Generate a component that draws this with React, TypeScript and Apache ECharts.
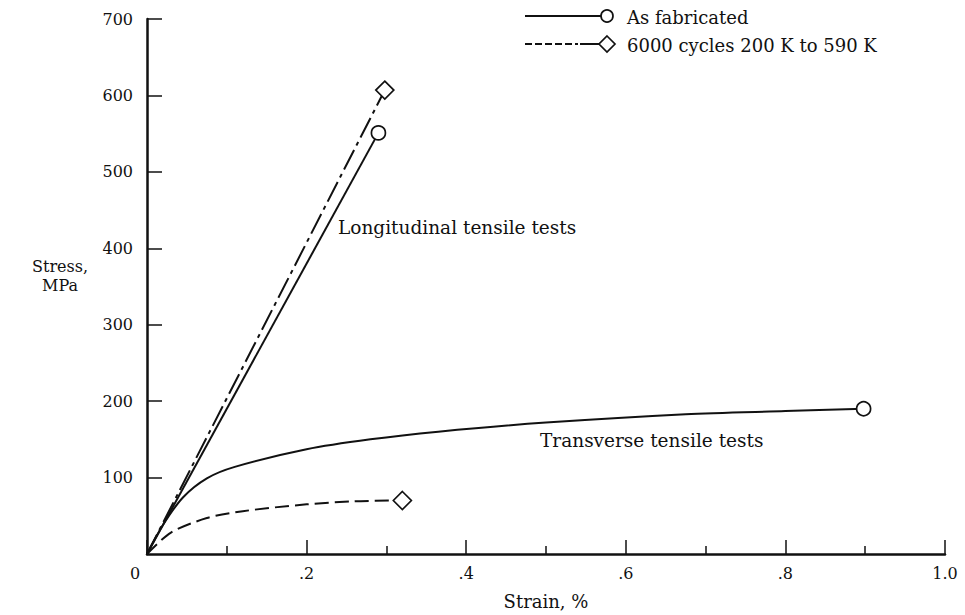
import React, { useEffect, useRef } from "react";
import * as echarts from "echarts";

const xTickLabels = ["0", ".2", ".4", ".6", ".8", "1.0"];
const yTickLabels = ["0", "100", "200", "300", "400", "500", "600", "700"];

const longFab: number[][] = [[0, 0], [0.29, 551]];
const longCyc: number[][] = [[0, 0], [0.298, 607]];
const transFab: number[][] = [
  [0, 0], [0.02, 38], [0.045, 74], [0.075, 99], [0.11, 114],
  [0.2, 137], [0.28, 150], [0.365, 160], [0.5, 172], [0.675, 183], [0.8, 187], [0.898, 190],
];
const transCyc: number[][] = [
  [0, 0], [0.03, 28], [0.075, 47], [0.12, 56], [0.2, 65], [0.26, 69], [0.32, 70],
];

const FONT = "DejaVu Serif";
const INK = "#111";

export default function App() {
  const ref = useRef<HTMLDivElement>(null);
  useEffect(() => {
    const chart = echarts.init(ref.current!, null, { renderer: "svg" });
    const lastSym = (sym: string, n: number) => (_v: any, p: any) => (p.dataIndex === n - 1 ? sym : "none");
    const symStyle = { color: "#fff", borderColor: INK, borderWidth: 1.7 };
    chart.setOption({
      animation: false,
      backgroundColor: "#fff",
      grid: { left: 147, top: 19, width: 798, height: 535, containLabel: false },
      xAxis: {
        type: "value", min: 0, max: 1, interval: 0.2,
        axisLine: { show: true, onZero: false, lineStyle: { color: INK, width: 2.5 } },
        axisTick: { show: true, inside: true, length: 14, lineStyle: { color: INK, width: 1.5 } },
        minorTick: { show: true, splitNumber: 2, length: 8, lineStyle: { color: INK, width: 1.5 } },
        splitLine: { show: false },
        axisLabel: {
          showMinLabel: false, margin: 11, color: INK, fontFamily: FONT, fontSize: 16,
          formatter: (v: number) => xTickLabels[Math.round(v / 0.2)],
        },
      },
      yAxis: {
        type: "value", min: 0, max: 700, interval: 100,
        axisLine: { show: true, onZero: false, lineStyle: { color: INK, width: 2.5 } },
        axisTick: { show: true, inside: true, length: 15, lineStyle: { color: INK, width: 1.5 } },
        splitLine: { show: false },
        axisLabel: {
          showMinLabel: false, margin: 14, color: INK, fontFamily: FONT, fontSize: 16,
          formatter: (v: number) => yTickLabels[Math.round(v / 100)],
        },
      },
      series: [
        {
          type: "line", data: longFab, showSymbol: true, symbol: lastSym("circle", longFab.length), symbolSize: 14,
          lineStyle: { color: INK, width: 2 }, itemStyle: symStyle, z: 3,
        },
        {
          type: "line", data: longCyc, showSymbol: true, symbol: lastSym("diamond", longCyc.length), symbolSize: [18, 18],
          lineStyle: { color: INK, width: 2, type: [22, 5, 4, 5] }, itemStyle: symStyle, z: 3,
        },
        {
          type: "line", data: transFab, smooth: 0.3, showSymbol: true, symbol: lastSym("circle", transFab.length), symbolSize: 14,
          lineStyle: { color: INK, width: 2 }, itemStyle: symStyle, z: 3,
        },
        {
          type: "line", data: transCyc, smooth: 0.3, showSymbol: true, symbol: lastSym("diamond", transCyc.length), symbolSize: [18, 18],
          lineStyle: { color: INK, width: 2, type: [14, 6] }, itemStyle: symStyle, z: 3,
        },
      ],
      graphic: [
        { type: "text", x: 135, y: 573, style: { text: xTickLabels[0], font: `16px "${FONT}"`, fill: INK, textAlign: "center", textVerticalAlign: "middle" } },
        { type: "text", x: 60, y: 266, style: { text: "Stress,", font: `16px "${FONT}"`, fill: INK, textAlign: "center", textVerticalAlign: "middle" } },
        { type: "text", x: 60, y: 285, style: { text: "MPa", font: `16px "${FONT}"`, fill: INK, textAlign: "center", textVerticalAlign: "middle" } },
        { type: "text", x: 546, y: 601, style: { text: "Strain, %", font: `18px "${FONT}"`, fill: INK, textAlign: "center", textVerticalAlign: "middle" } },
        { type: "text", x: 338, y: 227, style: { text: "Longitudinal tensile tests", font: `18.5px "${FONT}"`, fill: INK, textVerticalAlign: "middle" } },
        { type: "text", x: 540, y: 440, style: { text: "Transverse tensile tests", font: `18.5px "${FONT}"`, fill: INK, textVerticalAlign: "middle" } },
        // legend
        { type: "line", shape: { x1: 525, y1: 16, x2: 601, y2: 16 }, style: { stroke: INK, lineWidth: 2 } },
        { type: "circle", shape: { cx: 607, cy: 16, r: 6 }, style: { fill: "#fff", stroke: INK, lineWidth: 1.7 } },
        { type: "text", x: 627, y: 17, style: { text: "As fabricated", font: `18px "${FONT}"`, fill: INK, textVerticalAlign: "middle" } },
        { type: "line", shape: { x1: 525, y1: 44, x2: 578, y2: 44 }, style: { stroke: INK, lineWidth: 2, lineDash: [7, 3] } },
        { type: "line", shape: { x1: 580, y1: 44, x2: 600, y2: 44 }, style: { stroke: INK, lineWidth: 2 } },
        { type: "polygon", shape: { points: [[607, 36], [615, 44], [607, 52], [599, 44]] }, style: { fill: "#fff", stroke: INK, lineWidth: 1.7 } },
        { type: "text", x: 627, y: 45, style: { text: "6000 cycles 200 K to 590 K", font: `18px "${FONT}"`, fill: INK, textVerticalAlign: "middle" } },
      ],
    });
    return () => chart.dispose();
  }, []);
  return <div ref={ref} style={{ position: "fixed", left: 0, top: 0, width: 965, height: 615, background: "#fff" }} />;
}
